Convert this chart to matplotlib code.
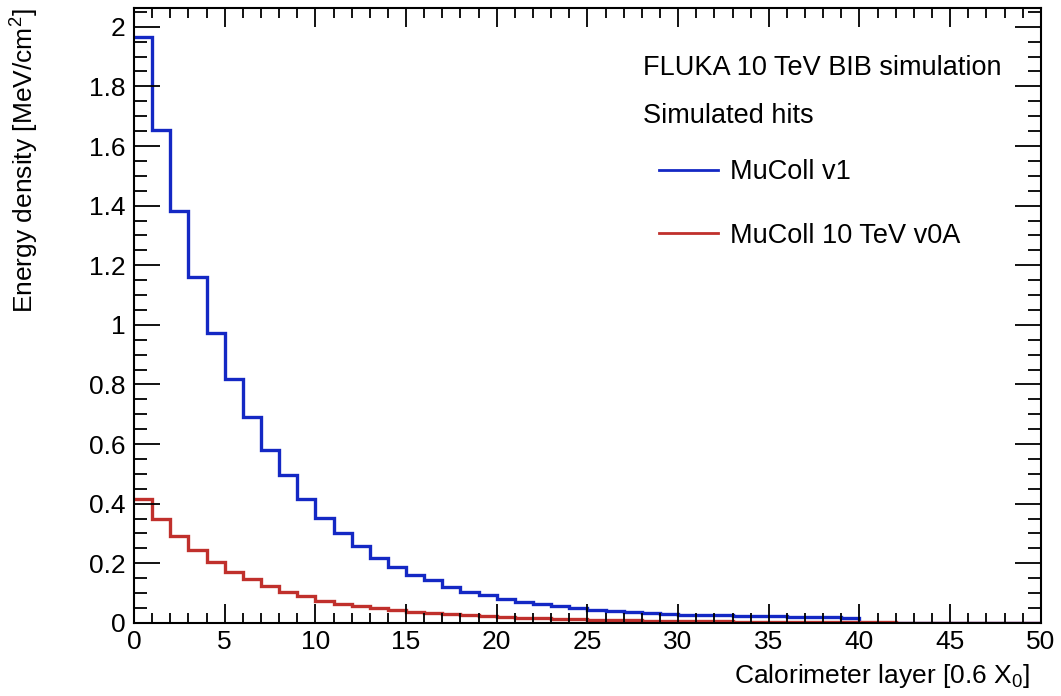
import matplotlib
matplotlib.use("Agg")
import matplotlib.pyplot as plt
import numpy as np

plt.rcParams['font.family'] = ['Liberation Sans', 'DejaVu Sans']
plt.rcParams['mathtext.fontset'] = 'custom'
plt.rcParams['mathtext.rm'] = 'Liberation Sans'

layer_edges = list(range(0, 51))

mucoll_v1 = [1.965, 1.654, 1.383, 1.160, 0.972, 0.818, 0.690, 0.580, 0.497, 0.416,
             0.353, 0.303, 0.258, 0.219, 0.189, 0.161, 0.143, 0.122, 0.104, 0.092,
             0.081, 0.070, 0.063, 0.056, 0.049, 0.044, 0.039, 0.036, 0.033, 0.030,
             0.028, 0.026, 0.025, 0.024, 0.023, 0.022, 0.021, 0.020, 0.019, 0.018,
             0, 0, 0, 0, 0, 0, 0, 0, 0, 0]

mucoll_10tev_v0a = [0.415, 0.349, 0.292, 0.246, 0.206, 0.172, 0.149, 0.125, 0.104, 0.090,
                    0.075, 0.065, 0.057, 0.049, 0.044, 0.038, 0.033, 0.029, 0.026, 0.023,
                    0.021, 0.018, 0.016, 0.014, 0.012, 0.011, 0.010, 0.009, 0.008, 0.007,
                    0.006, 0.005, 0.005, 0.004, 0.004, 0.003, 0.003, 0.003, 0.002, 0.002,
                    0.002, 0.002, 0.001, 0.001, 0.001, 0.001, 0.001, 0.001, 0.001, 0.001]

labels = ["MuColl v1", "MuColl 10 TeV v0A"]
colors = ["#1428c4", "#c0302c"]

fig = plt.figure(figsize=(10.61, 6.96), dpi=100)
ax = fig.add_axes([0.1263, 0.105, 0.981 - 0.1263, 0.9885 - 0.105])

h1 = ax.stairs(mucoll_v1, layer_edges, color=colors[0], linewidth=2.4, baseline=None)
h2 = ax.stairs(mucoll_10tev_v0a, layer_edges, color=colors[1], linewidth=2.4, baseline=None)

ax.set_xlim(0, 50)
ax.set_ylim(0, 2.063)

ax.set_xticks(np.arange(0, 51, 5))
ax.set_xticks(np.arange(0, 51, 1), minor=True)
ax.set_yticks(np.arange(0, 2.01, 0.2))
ax.set_yticks(np.arange(0, 2.06, 0.05), minor=True)
ax.set_xticklabels(["0", "5", "10", "15", "20", "25", "30", "35", "40", "45", "50"])
ax.set_yticklabels(["0", "0.2", "0.4", "0.6", "0.8", "1", "1.2", "1.4", "1.6", "1.8", "2"])

ax.tick_params(axis='both', which='both', direction='in', top=True, right=True,
               labelsize=19, width=1.3, color='black')
ax.tick_params(axis='x', which='major', length=14, pad=5)
ax.tick_params(axis='x', which='minor', length=7)
ax.tick_params(axis='y', which='major', length=19, pad=6)
ax.tick_params(axis='y', which='minor', length=9.5)
for s in ax.spines.values():
    s.set_linewidth(1.5)

ax.set_ylabel("Energy density [MeV/cm$^2$]", fontsize=19, loc='top')
ax.yaxis.set_label_coords(-0.104, 1.0)
ax.set_xlabel("Calorimeter layer [0.6 X$_0$]", fontsize=19, loc='right')
ax.xaxis.set_label_coords(0.988, -0.0634)

ax.text(0.561, 0.902, "FLUKA 10 TeV BIB simulation", transform=ax.transAxes,
        fontsize=19.5, va='center', ha='left')
ax.text(0.561, 0.824, "Simulated hits", transform=ax.transAxes,
        fontsize=19.5, va='center', ha='left')

leg = ax.legend([h1, h2], labels, loc='upper left', bbox_to_anchor=(0.579, 0.754),
                frameon=False, fontsize=19.5, handlelength=2.18, handletextpad=0.44,
                labelspacing=1.39, borderpad=0.0, borderaxespad=0.0)
for line in leg.get_lines():
    line.set_linewidth(2.0)

fig.savefig("out.png", dpi=100)
